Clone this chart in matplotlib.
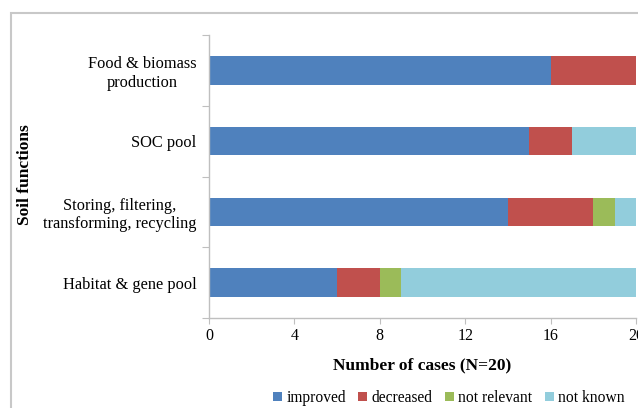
import matplotlib
matplotlib.use("Agg")
import matplotlib.pyplot as plt
from matplotlib.patches import Rectangle, Patch
import numpy as np

categories = ["Food & biomass\nproduction", "SOC pool",
              "Storing, filtering,\ntransforming, recycling", "Habitat & gene pool"]
series_names = ["improved", "decreased", "not relevant", "not known"]
improved = [16, 15, 14, 6]
decreased = [4, 2, 4, 2]
not_relevant = [0, 0, 1, 1]
not_known = [0, 3, 1, 11]
x_ticks = [0, 4, 8, 12, 16, 20]
colors = ["#4F81BD", "#C0504D", "#9BBB59", "#92CDDC"]

plt.rcParams['font.family'] = ['Liberation Serif', 'DejaVu Serif']

fig = plt.figure(figsize=(6.38, 4.08), dpi=100)
W, H = 638, 408

# outer frame (partially cropped)
fig.patches.append(Rectangle((11 / W, -0.1), 1.2, 1 - 13 / H + 0.1,
                             transform=fig.transFigure, fill=False,
                             edgecolor="#c8c8c8", linewidth=1.5, zorder=0))

ax = fig.add_axes([209 / W, (H - 318) / H, 427 / W, 283 / H])

y = np.arange(len(categories))
left = np.zeros(len(categories))
for vals, name, c in zip([improved, decreased, not_relevant, not_known], series_names, colors):
    v = np.array(vals, dtype=float)
    ax.barh(y, v, left=left, height=0.4, color=c, label=name, linewidth=0)
    left += v

ax.set_ylim(len(categories) - 0.5, -0.5)
ax.set_xlim(0, 20)
ax.set_xticks(x_ticks)
ax.set_xticklabels([str(t) for t in x_ticks], fontsize=11.5)

ax.set_yticks(np.arange(-0.5, len(categories), 1.0))
ax.set_yticklabels([])
ax.set_yticks(y, minor=True)
ax.set_yticklabels(categories, minor=True, fontsize=11.8, multialignment='center')
ax.tick_params(axis='y', which='minor', length=0, pad=9)
ax.tick_params(axis='y', which='major', length=5, color="#bfbfbf", direction='out')
ax.tick_params(axis='x', length=4, color="#bfbfbf", direction='out', pad=3)

for s in ['top', 'right']:
    ax.spines[s].set_visible(False)
for s in ['left', 'bottom']:
    ax.spines[s].set_color("#bfbfbf")
    ax.spines[s].set_linewidth(1.0)

ax.set_xlabel("Number of cases (N=20)", fontsize=12.5, fontweight='bold', labelpad=10)
fig.text(25 / W, 1 - 175 / H, "Soil functions", rotation=90, fontsize=12.5,
         fontweight='bold', ha='center', va='center')

handles = [Patch(facecolor=c, edgecolor='none') for c in colors]
fig.legend(handles, series_names, loc='center', bbox_to_anchor=(449 / W, 1 - 398 / H),
           ncol=4, frameon=False, fontsize=11.2, handlelength=0.55, handleheight=0.55,
           handletextpad=0.3, columnspacing=0.8, borderpad=0, borderaxespad=0)

fig.savefig("out.png", dpi=100)
